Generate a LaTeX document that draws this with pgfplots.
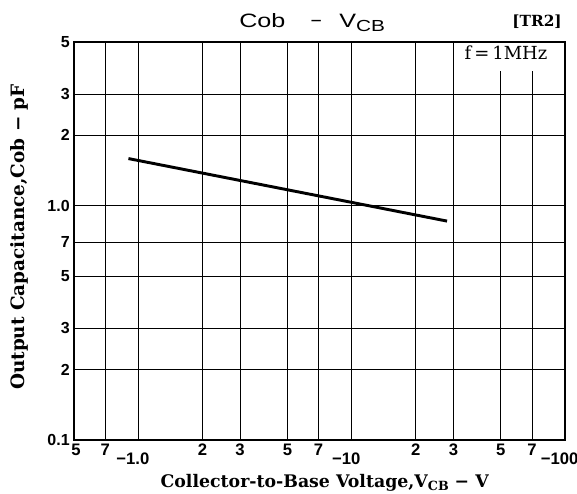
\documentclass[border=0pt]{standalone}
\usepackage{fontspec}
\setmainfont{Liberation Serif}
\setsansfont{Liberation Sans}
\newfontfamily\dvs{DejaVu Serif}
\usepackage{pgfplots}
\pgfplotsset{compat=1.18}
\begin{document}
\begin{tikzpicture}
\useasboundingbox (-55.5pt,-39.75pt) rectangle (377.25pt,330pt);
\begin{axis}[
  at={(0,0)}, anchor=south west,
  scale only axis, width=368.25pt, height=298.5pt,
  xmode=log, ymode=log,
  xmin=0.5, xmax=100, ymin=0.1, ymax=5,
  xtick={0.5,0.7,2,3,5,7,20,30,50,70},
  xticklabels={\hspace{3pt}5,7,2,3,5,7,2,3,5,7},
  extra x ticks={1,10,100},
  extra x tick labels={−1.0,−10,−100},
  extra x tick style={grid=major, tick label style={yshift=-6.5pt, xshift=-4pt, font=\sffamily\bfseries\fontsize{13.5}{13.5}\selectfont}},
  ytick={0.1,0.2,0.3,0.5,0.7,1,2,3,5},
  yticklabels={0.1,2,3,5,7,1.0,2,3,5},
  minor xtick={}, minor ytick={},
  grid=major,
  major grid style={black, line width=0.6pt},
  tick style={draw=none},
  axis line style={black, line width=1.1pt},
  xticklabel style={font=\sffamily\bfseries\fontsize{12.5}{12.5}\selectfont, inner sep=0pt, anchor=north, yshift=-3pt},
  yticklabel style={font=\sffamily\bfseries\fontsize{12}{12}\selectfont, inner sep=0pt, anchor=east, xshift=-3pt},
]
\addplot[black, line width=2.2pt] coordinates {(0.9,1.59) (28,0.86)};
\fill[white] (axis cs:31.5,3.75) rectangle (axis cs:98.5,4.95);
\end{axis}
\node[anchor=north, inner sep=0pt, font=\dvs\fontsize{13.5}{13.5}\selectfont] at (324pt,296pt) {f\,=\,1MHz};
\node[anchor=base west, inner sep=0pt, font=\sffamily\fontsize{14.5}{14.5}\selectfont] at (123.75pt,309pt)
  {\scalebox{1.3}[1]{Cob}\hspace{19pt}−\hspace{13pt}\scalebox{1.3}[1]{V\raisebox{-3pt}{\fontsize{12}{12}\selectfont CB}}};
\node[anchor=base east, inner sep=0pt, font=\dvs\bfseries\fontsize{11.5}{11.5}\selectfont] at (366pt,309.75pt) {[TR2]};
\node[anchor=base, font=\dvs\bfseries\fontsize{13}{13}\selectfont] at (188pt,-35.25pt)
  {Collector-to-Base Voltage,V\raisebox{-2.5pt}{\fontsize{9.5}{9.5}\selectfont CB} − V};
\node[rotate=90, anchor=center, font=\dvs\bfseries\fontsize{13.8}{13.8}\selectfont] at (-41.25pt,152.25pt)
  {Output Capacitance,Cob − pF};
\end{tikzpicture}
\end{document}
